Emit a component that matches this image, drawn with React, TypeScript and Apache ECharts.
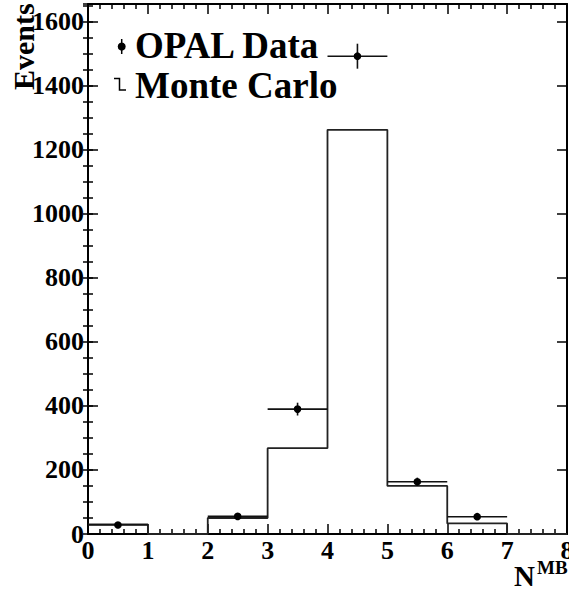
import React, { useEffect, useRef } from "react";
import * as echarts from "echarts";

// Histogram bin edges (N^MB)
const binLow = [0, 1, 2, 3, 4, 5, 6, 7];
const binHigh = [1, 2, 3, 4, 5, 6, 7, 8];
// Monte Carlo expectation per bin
const mcValues = [30, 0, 50, 268, 1262, 150, 33, 0];
// OPAL data per bin (null = no entry) and its statistical error
const dataValues = [28, null, 55, 390, 1492, 163, 54, null];
const dataErrors = [5, 0, 7, 20, 39, 13, 7, 0];

const xTicks = [0, 1, 2, 3, 4, 5, 6, 7, 8];
const yMax = 1655;

const FONT = "Liberation Serif";

export default function App() {
  const ref = useRef<HTMLDivElement>(null);

  useEffect(() => {
    if (!ref.current) return;
    const chart = echarts.init(ref.current, null, { renderer: "svg" });

    const mcStep: number[][] = binLow.map((lo, i) => [lo, mcValues[i]]);
    mcStep.push([binHigh[binHigh.length - 1], mcValues[mcValues.length - 1]]);

    const dataPts: number[][] = [];
    dataValues.forEach((v, i) => {
      if (v !== null) dataPts.push([binLow[i], binHigh[i], v, dataErrors[i]]);
    });

    const tickColor = "#000";
    const majorY = (pos: "left" | "right", labels: boolean) => ({
      type: "value",
      position: pos,
      min: 0,
      max: yMax,
      interval: 200,
      axisLine: { show: true, onZero: false, lineStyle: { color: "#000", width: 2 } },
      axisTick: { show: true, inside: true, length: 10, lineStyle: { color: tickColor, width: 1.5 } },
      axisLabel: {
        show: labels,
        showMaxLabel: false,
        margin: 4,
        color: "#000",
        fontFamily: FONT,
        fontWeight: "bold",
        fontSize: 26,
        formatter: (v: number) => String(v),
      },
      splitLine: { show: false },
    });
    const minorY = (pos: "left" | "right") => ({
      type: "value",
      position: pos,
      min: 0,
      max: yMax,
      interval: 50,
      axisLine: { show: false },
      axisTick: { show: true, inside: true, length: 5, lineStyle: { color: tickColor, width: 1.5 } },
      axisLabel: { show: false },
      splitLine: { show: false },
    });
    const xAx = (pos: "top" | "bottom", labels: boolean) => ({
      type: "value",
      position: pos,
      min: xTicks[0],
      max: xTicks[xTicks.length - 1],
      interval: 1,
      axisLine: { show: true, onZero: false, lineStyle: { color: "#000", width: 2 } },
      axisTick: { show: true, inside: true, length: 10, lineStyle: { color: tickColor, width: 1.5 } },
      minorTick: { show: true, splitNumber: 5, length: 5, lineStyle: { color: tickColor, width: 1.5 } },
      axisLabel: {
        show: labels,
        margin: 3,
        color: "#000",
        fontFamily: FONT,
        fontWeight: "bold",
        fontSize: 26,
        showMinLabel: true,
        showMaxLabel: true,
        hideOverlap: false,
        formatter: (v: number) => String(v),
      },
      splitLine: { show: false },
      minorSplitLine: { show: false },
    });

    const txt = (text: string, x: number, y: number, size: number, extra: any = {}) => ({
      type: "text",
      x,
      y,
      z: 10,
      ...extra,
      style: {
        text,
        fill: "#000",
        fontFamily: FONT,
        fontWeight: "bold",
        fontSize: size,
        textAlign: "left",
        textVerticalAlign: "middle",
      },
    });

    chart.setOption({
      animation: false,
      backgroundColor: "#fff",
      grid: { left: 88, right: 2, top: 4, bottom: 56, containLabel: false, outerBoundsMode: "none" },
      xAxis: [xAx("bottom", true), xAx("top", false)],
      yAxis: [majorY("left", true), minorY("left"), majorY("right", false), minorY("right")],
      series: [
        {
          type: "line",
          name: "Monte Carlo",
          xAxisIndex: 0,
          yAxisIndex: 0,
          step: "end",
          data: mcStep,
          symbol: "none",
          lineStyle: { color: "#222", width: 1.8 },
          z: 3,
        },
        {
          type: "custom",
          name: "OPAL Data",
          xAxisIndex: 0,
          yAxisIndex: 0,
          data: dataPts,
          z: 4,
          renderItem: (params: any, api: any) => {
            const lo = api.value(0);
            const hi = api.value(1);
            const y = api.value(2);
            const e = api.value(3);
            const mid = (lo + hi) / 2;
            const a = api.coord([lo, y]);
            const b = api.coord([hi, y]);
            const c = api.coord([mid, y]);
            const t = api.coord([mid, y + e]);
            const d = api.coord([mid, y - e]);
            const st = { stroke: "#111", lineWidth: 1.6 };
            return {
              type: "group",
              children: [
                { type: "line", shape: { x1: a[0], y1: a[1], x2: b[0], y2: b[1] }, style: st },
                { type: "line", shape: { x1: t[0], y1: t[1], x2: d[0], y2: d[1] }, style: st },
                { type: "circle", shape: { cx: c[0], cy: c[1], r: 3.8 }, style: { fill: "#000" } },
              ],
            };
          },
        },
      ],
      graphic: [
        txt("Events", 23, 90, 30, { rotation: Math.PI / 2 }),
        {
          type: "line",
          shape: { x1: 121.7, y1: 39, x2: 121.7, y2: 54 },
          style: { stroke: "#000", lineWidth: 1.5 },
        },
        {
          type: "circle",
          shape: { cx: 121.7, cy: 46.5, r: 4 },
          style: { fill: "#000" },
        },
        txt("OPAL Data", 135, 45, 37),
        {
          type: "polyline",
          shape: { points: [[114, 78.5], [119.5, 78.5], [119.5, 90], [126, 90]] },
          style: { stroke: "#000", lineWidth: 1.5, fill: null },
        },
        txt("Monte Carlo", 135, 85, 37),
        txt("N", 514, 575.5, 29),
        txt("MB", 537, 567, 19),
      ],
    });

    return () => chart.dispose();
  }, []);

  return (
    <div
      ref={ref}
      style={{ position: "fixed", left: 0, top: 0, width: 569, height: 590, background: "#fff" }}
    />
  );
}
